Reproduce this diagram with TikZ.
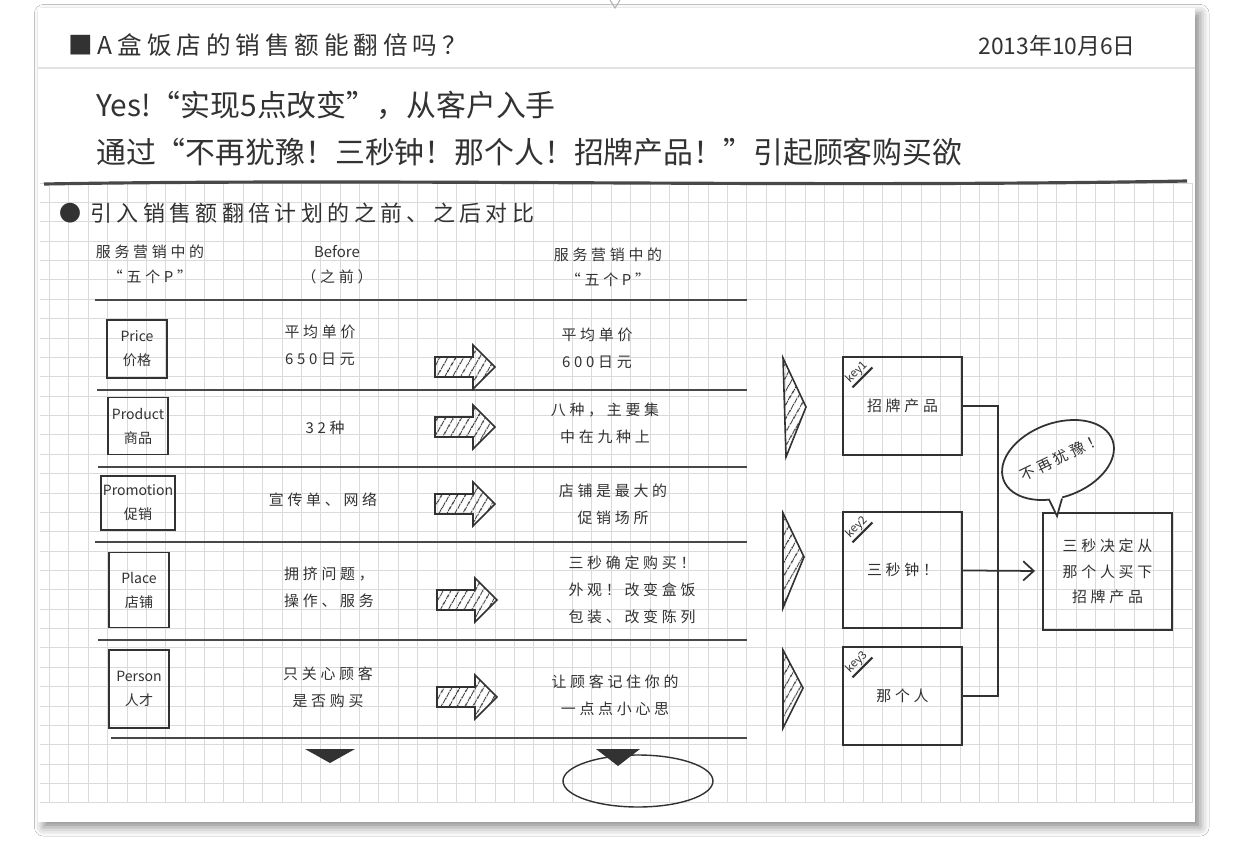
\documentclass[tikz,border=0pt]{standalone}
\usepackage{fontspec}
\usepackage{tikz}
\usetikzlibrary{arrows.meta,shapes.geometric,positioning,calc,patterns.meta,shadows.blur}
\newfontfamily\cjk{Noto Sans CJK SC}
\newfontfamily\cjksp[LetterSpace=25]{Noto Sans CJK SC}
\newfontfamily\cjkwide[LetterSpace=20]{Noto Sans CJK SC}
\usepackage{xcolor}
\definecolor{ink}{RGB}{50,50,50}
\definecolor{rulegray}{RGB}{72,72,72}
\definecolor{gridgray}{RGB}{218,218,218}
\definecolor{linegray}{RGB}{226,226,226}
\newcommand{\titlefont}{\cjkwide\fontsize{14}{16}\selectfont}
\newcommand{\datefont}{\cjk\fontsize{13}{15}\selectfont}
\newcommand{\leadfont}{\cjk\fontsize{17}{20}\selectfont}
\newcommand{\subfont}{\cjkwide\fontsize{12.5}{14}\selectfont}
\newcommand{\bodyfont}{\cjksp\fontsize{8.5}{15.2}\selectfont}
\newcommand{\boxfont}{\cjk\fontsize{8}{13.7}\selectfont}
\newcommand{\tagfont}{\cjk\fontsize{6.5}{7}\selectfont}
\tikzstyle{cell} = [align=center, text=ink, font=\bodyfont, inner sep=1pt]
\tikzstyle{pbox} = [rectangle, draw=ink, line width=1.1pt, minimum width=1.2cm, align=center, inner sep=1pt, font=\boxfont, text=ink]
\tikzstyle{keybox} = [rectangle, draw=ink, line width=1.1pt, minimum width=2.38cm, minimum height=1.96cm, font=\bodyfont, text=ink]
\tikzstyle{keytag} = [rotate=45, font=\tagfont, inner sep=0.8pt, text=ink]
\tikzstyle{rule} = [line width=1.4pt, color=rulegray]
\tikzstyle{link} = [line width=1pt, color=ink]
\tikzstyle{hatch} = [draw=ink, line width=0.9pt, pattern={Lines[angle=60,distance=4pt,line width=0.7pt]}, pattern color=ink]
\tikzset{hatcharrow/.pic={\draw[hatch] (-30,-10) -- (8,-10) -- (8,-22) -- (30,0) -- (8,22) -- (8,10) -- (-30,10) -- cycle;}}

\begin{document}
\begin{tikzpicture}[x=0.02cm, y=-0.02cm]
\useasboundingbox (0,0) rectangle (1233,848);
\fill[white] (0,0) rectangle (1233,848);
% sheet
\fill[white, blur shadow={shadow xshift=3pt, shadow yshift=-3pt, shadow blur radius=5pt, shadow opacity=45}] (38,8) rectangle (1195,822);
\draw[gray!60, line width=0.6pt] (610,0) -- (615,8) -- (620,0);
\draw[linegray, line width=0.8pt] (38,68) -- (1195,68);
\foreach \i in {0,...,59}
  \draw[gridgray, line width=0.45pt] ({49.5+19.37*\i},183) -- ({49.5+19.37*\i},803);
\foreach \j in {0,...,32}
  \draw[gridgray, line width=0.45pt] (40,{183+19.37*\j}) -- (1192,{183+19.37*\j});
\draw[line width=1.8pt, rulegray] (44,184) .. controls (400,178) and (800,188) .. (1187,181);

% heading
\node[anchor=west, text=ink, font=\titlefont] (title) at (62,45) {■A盒饭店的销售额能翻倍吗？};
\node[anchor=east, text=ink, font=\datefont] (date) at (1142,46) {2013年10月6日};
\node[anchor=west, text=ink, font=\leadfont] (lead1) at (90,105) {Yes!“实现5点改变”，从客户入手};
\node[anchor=west, text=ink, font=\leadfont] (lead2) at (90,152) {通过“不再犹豫！三秒钟！那个人！招牌产品！”引起顾客购买欲};
\node[anchor=west, text=ink, font=\subfont] (sub) at (53,213) {● 引入销售额翻倍计划的之前、之后对比};

% column heads
\node[cell, font=\cjksp\fontsize{8.5}{14.2}\selectfont] (head1) at (150,264) {服务营销中的\\“五个P”};
\node[cell, font=\cjksp\fontsize{8.5}{14.2}\selectfont] (head2) at (337,265) {{\cjk Before}\\（之前）};
\node[cell, font=\cjksp\fontsize{8.5}{14.2}\selectfont] (head3) at (608,267) {服务营销中的\\“五个P”};

% table rules
\draw[rule] (95,300) -- (747,300);
\draw[rule] (97,390) -- (747,390);
\draw[rule] (98,467) -- (747,467);
\draw[rule] (95,542) -- (747,542);
\draw[rule] (98,640) -- (747,640);
\draw[rule] (111,738) -- (747,738);

% five P
\node[pbox, minimum height=1.16cm] (price) at (137,349) {Price\\价格};
\node[pbox, minimum height=1.14cm] (product) at (138,426) {Product\\商品};
\node[pbox, minimum height=1.08cm] (promo) at (138,503) {Promotion\\促销};
\node[pbox, minimum height=1.5cm] (place) at (139,590) {Place\\店铺};
\node[pbox, minimum height=1.56cm] (person) at (139,689) {Person\\人才};

% before
\node[cell] (b1) at (320,345) {平均单价\\650日元};
\node[cell] (b2) at (325,428) {32种};
\node[cell] (b3) at (323,500) {宣传单、网络};
\node[cell] (b4) at (329,587) {拥挤问题，\\操作、服务};
\node[cell] (b5) at (328,687) {只关心顾客\\是否购买};

\pic (arr1) at (465,367) {hatcharrow};
\pic (arr2) at (465,427) {hatcharrow};
\pic (arr3) at (465,504) {hatcharrow};
\pic (arr4) at (467,600) {hatcharrow};
\pic (arr5) at (467,697) {hatcharrow};

% after
\node[cell] (a1) at (597,348) {平均单价\\600日元};
\node[cell] (a2) at (605,423) {八种，主要集\\中在九种上};
\node[cell] (a3) at (613,504) {店铺是最大的\\促销场所};
\node[cell] (a4) at (632,590) {三秒确定购买！\\外观！改变盒饭\\包装、改变陈列};
\node[cell] (a5) at (615,695) {让顾客记住你的\\一点点小心思};

\fill[ink] (305,749) -- (355,749) -- (330,763) -- cycle;
\node[draw=ink, line width=0.8pt, ellipse, minimum width=3cm, minimum height=1.04cm] (oval) at (638,781) {};
\fill[ink] (596,749) -- (640,749) -- (618,766) -- cycle;

% keys
\draw[hatch] (783,358) -- (806,407) -- (786,457) -- cycle;
\draw[hatch] (783,513) -- (804,557) -- (783,608) -- cycle;
\draw[hatch] (783,650) -- (803,688) -- (783,728) -- cycle;

\node[keybox] (kb1) at (902.5,406) {招牌产品};
\node[keybox, minimum height=2.32cm] (kb2) at (902.5,570) {三秒钟！};
\node[keybox] (kb3) at (902.5,696) {那个人};
\node[keytag] (k1) at ($(kb1.north west)+(15,16)$) {key1};
\node[keytag] (k2) at ($(kb2.north west)+(15,16)$) {key2};
\node[keytag] (k3) at ($(kb3.north west)+(15,16)$) {key3};
\draw[link, line width=1.2pt] (k1.south west) -- (k1.south east);
\draw[link, line width=1.2pt] (k2.south west) -- (k2.south east);
\draw[link, line width=1.2pt] (k3.south west) -- (k3.south east);

\node[keybox, minimum width=2.58cm, minimum height=2.34cm, align=center, font=\cjksp\fontsize{8.5}{14.5}\selectfont] (res) at (1107.5,571.5) {三秒决定从\\那个人买下\\招牌产品};

\draw[link] (kb1.east) -- ++(35,0) |- (kb3.east);
\draw[link, -{Straight Barb[length=6pt,width=11pt]}, shorten >=4pt] (kb2) -- (res);

% bubble
\node[draw=ink, line width=1pt, ellipse, rotate=20, minimum width=2.32cm, minimum height=1.48cm, inner sep=0pt] (bub) at (1058,460) {};
\node[cell, rotate=26] (bubtxt) at (1061,457) {不再犹豫！};
\coordinate (tip) at ($(res.north west)+(15,4)$);
\fill[white] ($(bub.center)+(-8,34)$) -- ($(bub.center)+(-8,40)$) -- (tip) -- ($(bub.center)+(4,39)$) -- ($(bub.center)+(4,33)$) -- cycle;
\draw[link] ($(bub.center)+(-9,39.5)$) -- (tip) -- ($(bub.center)+(4,38.5)$);
\end{tikzpicture}
\end{document}
